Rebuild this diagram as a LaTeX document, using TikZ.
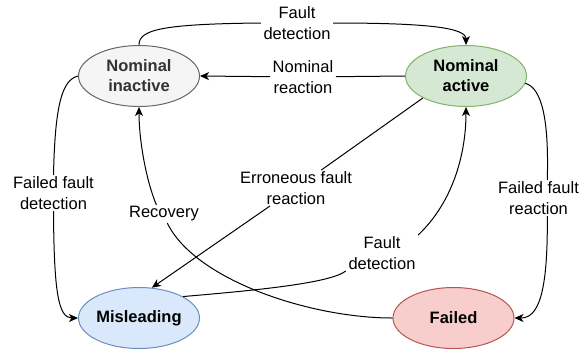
\documentclass[tikz,border=0pt]{standalone}
\usepackage{fontspec}
\setmainfont{Liberation Sans}
\usetikzlibrary{arrows.meta,shapes.geometric}
\definecolor{inFill}{HTML}{F5F5F5}
\definecolor{inDraw}{HTML}{666666}
\definecolor{inText}{HTML}{333333}
\definecolor{acFill}{HTML}{D5E8D4}
\definecolor{acDraw}{HTML}{82B366}
\definecolor{miFill}{HTML}{DAE8FC}
\definecolor{miDraw}{HTML}{6C8EBF}
\definecolor{faFill}{HTML}{F8CECC}
\definecolor{faDraw}{HTML}{B85450}
\tikzset{
  state/.style={ellipse, minimum width=121pt, minimum height=61pt, inner sep=0pt,
    line width=1pt, align=center, font=\fontsize{16.5}{20}\selectfont\bfseries},
  lbl/.style={fill=white, align=center, inner xsep=2.5pt, inner ysep=1.5pt,
    font=\fontsize{16.5}{20.5}\selectfont},
  ln/.style={line width=1pt, black},
  arr/.style={ln, -{Stealth[length=9pt,width=8pt,inset=2.5pt]}}
}
\begin{document}
\begin{tikzpicture}[x=1pt,y=-1pt]
\useasboundingbox (0,0) rectangle (580,349);
% states
\node[state, fill=inFill, draw=inDraw, text=inText] (ni) at (139,76) {Nominal\\inactive};
\node[state, fill=acFill, draw=acDraw] (na) at (466,76) {Nominal\\active};
\node[state, fill=miFill, draw=miDraw] (mis) at (139,318) {Misleading};
\node[state, fill=faFill, draw=faDraw] (fail) at (453.5,318) {Failed};
% labels
\node[lbl] (fd1) at (297,23) {Fault\\detection};
\node[lbl] (nrl) at (303,77) {Nominal\\reaction};
\node[lbl] (ffd) at (53.5,193) {Failed fault\\detection};
\node[lbl] (rec) at (164,214) {Recovery};
\node[lbl] (erl) at (296,188) {Erroneous fault\\reaction};
\node[lbl] (fd2) at (382,253) {Fault\\detection};
\node[lbl, inner xsep=1pt] (ffr) at (538.5,198) {Failed fault\\reaction};
% Fault detection (inactive -> active)
\draw[ln] (ni.north) .. controls (139,30) and (160,24) .. (fd1.west);
\draw[arr] (fd1.east) .. controls (430,23) and (466,28) .. (na.north);
% Nominal reaction
\draw[ln] (na.west) -- (nrl);
\draw[arr] (nrl) -- (ni.east);
% Failed fault detection
\draw[ln] (ni.west) .. controls (62,80) and (55,105) .. (ffd.north);
\draw[arr] (ffd.south) .. controls (54,290) and (58,318) .. (mis.west);
% Recovery
\draw[ln] (fail.west) .. controls (310,318) and (195,280) .. (rec.-70);
\draw[arr] (rec.130) .. controls (146,180) and (139,140) .. (ni.south);
% Erroneous fault reaction
\draw[ln] (na.207) -- (erl);
\draw[arr] (erl) -- (mis.67);
% Fault detection (misleading -> active)
\draw[ln] (mis.26) .. controls (260,290) and (330,283) .. (fd2.south west);
\draw[arr] (fd2.north east) .. controls (455,200) and (466,150) .. (na.south);
% Failed fault reaction
\draw[ln] (na.-7) .. controls (542,88) and (549,120) .. (ffr.64);
\draw[arr] (ffr.-64) .. controls (548,295) and (538,318) .. (fail.east);
\end{tikzpicture}
\end{document}
